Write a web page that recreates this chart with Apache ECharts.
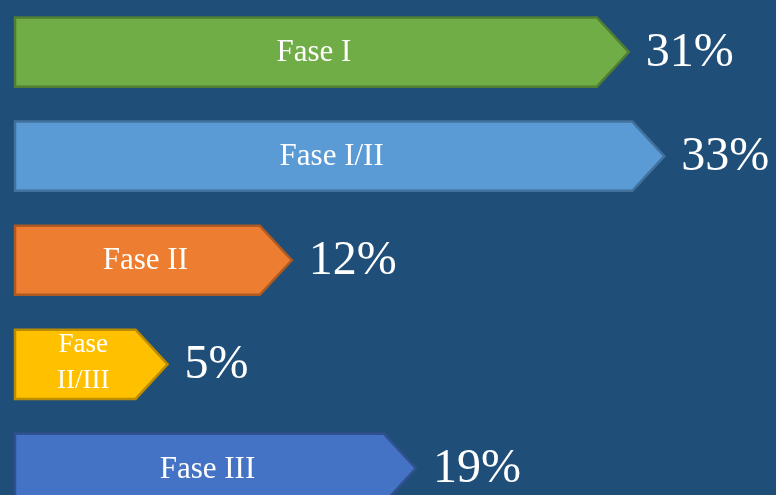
<!DOCTYPE html>
<html><head><meta charset="utf-8">
<script src="https://cdn.jsdelivr.net/npm/echarts@6/dist/echarts.min.js"></script>
<style>html,body{margin:0;padding:0;background:#1F4E79;}#c{width:776px;height:495px;}</style>
</head><body><div id="c"></div>
<script>
const categories = ['Fase I', 'Fase I/II', 'Fase II', 'Fase II/III', 'Fase III'];
const barLabels = ['Fase I', 'Fase I/II', 'Fase II', 'Fase\nII/III', 'Fase III'];
const values = [31, 33, 12, 5, 19];
const fills = ['#70AD47', '#5B9BD5', '#ED7D31', '#FFC000', '#4472C4'];
const strokes = ['#507E32', '#41719C', '#AE5A21', '#BC8C00', '#2F528F'];

const chart = echarts.init(document.getElementById('c'));
const SERIF = '"Liberation Serif", "DejaVu Serif", serif';
chart.setOption({
  backgroundColor: '#1F4E79',
  animation: false,
  grid: { left: 15, top: 0, width: 738, height: 495 },
  xAxis: { type: 'value', min: -3.6, max: 38, show: false },
  yAxis: { type: 'value', min: -0.5, max: 4.255, inverse: true, show: false },
  series: [{
    type: 'custom',
    name: 'Fases',
    encode: { x: 0, y: 1 },
    data: values.map((v, i) => [v, i]),
    renderItem: function (params, api) {
      const i = api.value(1);
      const tipPt = api.coord([api.value(0), i]);
      const tip = tipPt[0], cy = tipPt[1];
      const left = params.coordSys.x;
      const band = api.size([0, 1])[1];
      const h = band * 0.665;
      const depth = 32;
      const isTwo = barLabels[i].indexOf('\n') >= 0;
      return {
        type: 'group',
        children: [
          {
            type: 'polygon',
            shape: { points: [[left, cy - h / 2], [tip - depth, cy - h / 2], [tip, cy], [tip - depth, cy + h / 2], [left, cy + h / 2]] },
            style: { fill: fills[i], stroke: strokes[i], lineWidth: 2.5, lineJoin: 'miter' }
          },
          {
            type: 'text',
            style: {
              x: (left + tip - depth / 2) / 2, y: cy + (isTwo ? -1 : 1),
              text: barLabels[i], fill: '#FFFFFF',
              font: (isTwo ? '27px ' : '31px ') + SERIF,
              align: 'center', verticalAlign: 'middle',
              lineHeight: isTwo ? 36 : 32
            }
          },
          {
            type: 'text',
            style: {
              x: tip + 17, y: cy + 1,
              text: values[i] + '%', fill: '#FFFFFF',
              font: '48px ' + SERIF,
              align: 'left', verticalAlign: 'middle'
            }
          }
        ]
      };
    }
  }]
});
</script></body></html>
